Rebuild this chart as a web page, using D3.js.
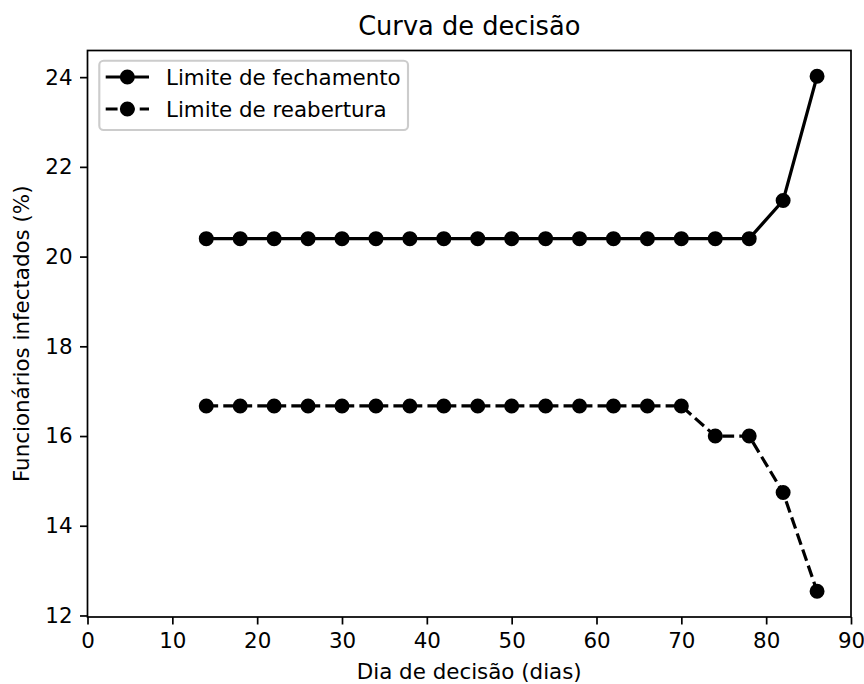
<!DOCTYPE html>
<html>
<head>
<meta charset="utf-8">
<script src="https://cdn.jsdelivr.net/npm/d3@7"></script>
<style>
  html, body { margin: 0; padding: 0; background: #fff; }
  svg { display: block; font-family: "DejaVu Sans", sans-serif; }
</style>
</head>
<body>
<svg id="chart" width="864" height="684"></svg>
<script>
// ---- data ----
const days = [14, 18, 22, 26, 30, 34, 38, 42, 46, 50, 54, 58, 62, 66, 70, 74, 78, 82, 86];
const closingLimit = [20.4, 20.4, 20.4, 20.4, 20.4, 20.4, 20.4, 20.4, 20.4, 20.4, 20.4, 20.4, 20.4, 20.4, 20.4, 20.4, 20.4, 21.25, 24.02];
const reopeningLimit = [16.67, 16.67, 16.67, 16.67, 16.67, 16.67, 16.67, 16.67, 16.67, 16.67, 16.67, 16.67, 16.67, 16.67, 16.67, 16.0, 16.0, 14.74, 12.54];
const xTicks = [0, 10, 20, 30, 40, 50, 60, 70, 80, 90];
const yTicks = [12, 14, 16, 18, 20, 22, 24];
const seriesNames = ["Limite de fechamento", "Limite de reabertura"];
const titleText = "Curva de decisão";
const xLabelText = "Dia de decisão (dias)";
const yLabelText = "Funcionários infectados (%)";

// ---- layout ----
const PT = 2.14; // px per pt
const plotL = 87.5, plotR = 851, plotT = 50.5, plotB = 617;
const fs = 10 * PT;

const svg = d3.select("#chart");

const allY = closingLimit.concat(reopeningLimit);
const yMin = d3.min(allY), yMax = d3.max(allY);
const pad = (yMax - yMin) * 0.05;

const x = d3.scaleLinear().domain([0, 90]).range([plotL, plotR]);
const y = d3.scaleLinear().domain([yMin - pad, yMax + pad]).range([plotB, plotT]);

// frame
svg.append("rect")
  .attr("x", plotL).attr("y", plotT)
  .attr("width", plotR - plotL).attr("height", plotB - plotT)
  .attr("fill", "none").attr("stroke", "#000").attr("stroke-width", 0.8 * PT);

// axes
const xAxis = d3.axisBottom(x).tickValues(xTicks).tickSize(3.5 * PT).tickPadding(3.5 * PT).tickFormat(d3.format("d"));
const gx = svg.append("g").attr("transform", `translate(0,${plotB})`).call(xAxis);
const yAxis = d3.axisLeft(y).tickValues(yTicks).tickSize(3.5 * PT).tickPadding(3.5 * PT).tickFormat(d3.format("d"));
const gy = svg.append("g").attr("transform", `translate(${plotL},0)`).call(yAxis);
[gx, gy].forEach(g => {
  g.select(".domain").remove();
  g.selectAll(".tick line").attr("stroke", "#000").attr("stroke-width", 0.8 * PT);
  g.selectAll(".tick text").attr("fill", "#000")
    .style("font-family", "DejaVu Sans").style("font-size", fs + "px");
});
gx.selectAll(".tick text").attr("y", 7 * PT).attr("dy", "0.76em");

// lines
const line = d3.line().x(d => x(d[0])).y(d => y(d[1]));
const series = [
  { vals: closingLimit, dash: null },
  { vals: reopeningLimit, dash: `${3.7 * 1.5 * PT},${1.6 * 1.5 * PT}` }
];
series.forEach(s => {
  const pts = days.map((d, i) => [d, s.vals[i]]);
  svg.append("path").datum(pts)
    .attr("d", line)
    .attr("fill", "none").attr("stroke", "#000")
    .attr("stroke-width", 1.5 * PT)
    .attr("stroke-dasharray", s.dash);
  svg.append("g").selectAll("circle").data(pts).join("circle")
    .attr("cx", d => x(d[0])).attr("cy", d => y(d[1]))
    .attr("r", 3 * PT).attr("fill", "#000")
    .attr("stroke", "#000").attr("stroke-width", 1 * PT);
});

// title & labels
svg.append("text").attr("x", (plotL + plotR) / 2).attr("y", 35)
  .attr("text-anchor", "middle").attr("fill", "#000")
  .style("font-size", 12 * PT + "px").text(titleText);
svg.append("text").attr("x", (plotL + plotR) / 2).attr("y", 679)
  .attr("text-anchor", "middle").attr("fill", "#000")
  .style("font-size", fs + "px").text(xLabelText);
svg.append("text")
  .attr("transform", `translate(29,${(plotT + plotB) / 2}) rotate(-90)`)
  .attr("text-anchor", "middle").attr("fill", "#000")
  .style("font-size", fs + "px").text(yLabelText);

// legend
const lg = svg.append("g");
lg.append("rect").attr("x", 99.3).attr("y", 60.7)
  .attr("width", 408 - 99.3).attr("height", 130 - 60.7)
  .attr("rx", 0.2 * fs).attr("ry", 0.2 * fs)
  .attr("fill", "#fff").attr("fill-opacity", 0.8)
  .attr("stroke", "#cccccc").attr("stroke-width", 1 * PT);
const rowsY = [77, 109];
series.forEach((s, i) => {
  const cy = rowsY[i];
  lg.append("line").attr("x1", 105.7).attr("x2", 149).attr("y1", cy).attr("y2", cy)
    .attr("stroke", "#000").attr("stroke-width", 1.5 * PT)
    .attr("stroke-dasharray", s.dash);
  lg.append("circle").attr("cx", (105.7 + 149) / 2).attr("cy", cy)
    .attr("r", 3 * PT).attr("fill", "#000").attr("stroke", "#000").attr("stroke-width", 1 * PT);
  lg.append("text").attr("x", 166).attr("y", cy + 8)
    .attr("fill", "#000").style("font-size", fs + "px").text(seriesNames[i]);
});
</script>
</body>
</html>
